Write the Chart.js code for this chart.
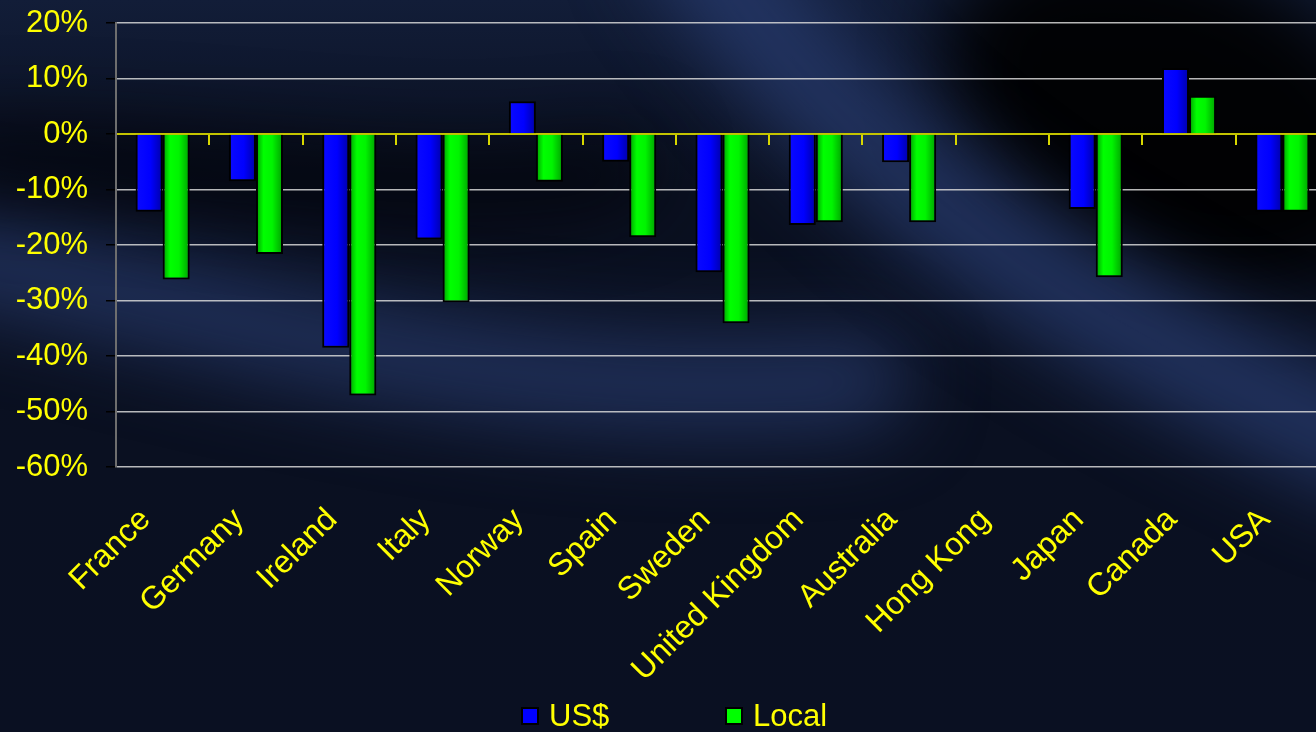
<!DOCTYPE html>
<html>
<head>
<meta charset="utf-8">
<script src="https://cdn.jsdelivr.net/npm/chart.js@4/dist/chart.umd.min.js"></script>
<style>
  html, body { margin: 0; padding: 0; overflow: hidden; background: #080d1c; }
  #wrap { position: relative; width: 1330px; height: 732px; }
</style>
</head>
<body>
<div id="wrap"><canvas id="chart"></canvas></div>
<script>
const countries = ['France', 'Germany', 'Ireland', 'Italy', 'Norway', 'Spain', 'Sweden',
    'United Kingdom', 'Australia', 'Hong Kong', 'Japan', 'Canada', 'USA'];

// returns in percent, Hong Kong has no bars
const usd = [-14.0, -8.5, -38.5, -19.0, 5.9, -5.0, -24.9, -16.4, -5.1, null, -13.5, 11.9, -14.0];
const local = [-26.2, -21.6, -47.1, -30.3, -8.6, -18.6, -34.1, -15.9, -15.9, null, -25.8, 6.9, -14.0];

const yTicks = [20, 10, 0, -10, -20, -30, -40, -50, -60];

const YELLOW = '#ffff00';
const CAT_PCT = 0.58;

// horizontal shading across each bar
function barFill(stops) {
    return (c) => {
        const chart = c.chart;
        const x = chart.scales.x;
        if (!x || c.dataIndex === undefined || !chart.chartArea) return stops[1][1];
        const cat = x.width / countries.length;
        const group = cat * CAT_PCT;
        const w = group / 2;
        const left = x.getPixelForValue(c.dataIndex) - group / 2 + w * c.datasetIndex;
        const g = chart.ctx.createLinearGradient(left, 0, left + w, 0);
        stops.forEach(([p, col]) => g.addColorStop(p, col));
        return g;
    };
}

const backdrop = {
    id: 'backdrop',
    beforeDraw(chart) {
        const {ctx, width, height} = chart;
        ctx.save();
        const base = ctx.createLinearGradient(0, 0, 0, height);
        base.addColorStop(0, '#121d38');
        base.addColorStop(0.25, '#0a1020');
        base.addColorStop(1, '#0a1022');
        ctx.fillStyle = base;
        ctx.fillRect(0, 0, width, height);

        ctx.filter = 'blur(38px)';
        ctx.lineCap = 'round';

        // dark pocket top right
        ctx.fillStyle = 'rgba(0,0,0,0.9)';
        ctx.beginPath();
        ctx.ellipse(1170, 110, 240, 160, 0.45, 0, Math.PI * 2);
        ctx.fill();

        // lower band coming in from the left
        ctx.strokeStyle = 'rgba(36,54,100,0.8)';
        ctx.lineWidth = 100;
        ctx.beginPath();
        ctx.moveTo(-60, 250);
        ctx.bezierCurveTo(250, 320, 520, 410, 860, 380);
        ctx.stroke();

        // main swoosh running down to the right
        ctx.strokeStyle = 'rgba(40,60,112,0.75)';
        ctx.lineWidth = 115;
        ctx.beginPath();
        ctx.moveTo(700, -60);
        ctx.bezierCurveTo(840, 150, 1030, 300, 1380, 450);
        ctx.stroke();

        // dim wedge along the 0% row
        ctx.strokeStyle = 'rgba(2,4,10,0.85)';
        ctx.lineWidth = 70;
        ctx.beginPath();
        ctx.moveTo(-40, 160);
        ctx.bezierCurveTo(200, 150, 420, 210, 620, 170);
        ctx.stroke();

        ctx.restore();
    }
};

const legendBoxes = {
    id: 'legendBoxes',
    afterDraw(chart) {
        const ctx = chart.ctx;
        const y = 716;
        const xs = [521, 725];
        ctx.save();
        ctx.font = '31px "Liberation Sans", Arial, sans-serif';
        ctx.textBaseline = 'middle';
        chart.data.datasets.forEach((ds, i) => {
            ctx.fillStyle = '#000';
            ctx.fillRect(xs[i], y - 9, 18, 18);
            ctx.fillStyle = ds.legendColor;
            ctx.fillRect(xs[i] + 2, y - 7, 14, 14);
            ctx.fillStyle = YELLOW;
            ctx.fillText(ds.label, xs[i] + 28, y + 1);
        });
        ctx.restore();
    }
};

new Chart(document.getElementById('chart'), {
    type: 'bar',
    data: {
        labels: countries,
        datasets: [
            {
                label: 'US$',
                data: usd,
                legendColor: '#0000ff',
                backgroundColor: barFill([[0, '#0a0aff'], [0.55, '#0000ff'], [1, '#0000a6']]),
                borderColor: '#000',
                borderWidth: 2,
                categoryPercentage: CAT_PCT,
                barPercentage: 1
            },
            {
                label: 'Local',
                data: local,
                legendColor: '#00ff00',
                backgroundColor: barFill([[0, '#009a00'], [0.28, '#00ff00'], [0.6, '#00f400'], [1, '#00a000']]),
                borderColor: '#000',
                borderWidth: 2,
                categoryPercentage: CAT_PCT,
                barPercentage: 1
            }
        ]
    },
    options: {
        responsive: true,
        maintainAspectRatio: false,
        animation: false,
        layout: { padding: { top: 23, right: 1, left: 0, bottom: 0 } },
        plugins: {
            legend: { display: false },
            tooltip: { enabled: false }
        },
        scales: {
            x: {
                type: 'category',
                offset: true,
                grid: { display: false },
                border: { display: false },
                ticks: {
                    color: YELLOW,
                    font: { family: '"Liberation Sans", Arial, sans-serif', size: 32 },
                    minRotation: 45,
                    maxRotation: 45,
                    autoSkip: false,
                    padding: 26,
                    labelOffset: -17
                },
                afterFit(s) {
                    s.height = 265;
                    s.paddingLeft = 0;
                    s.paddingRight = 0;
                }
            },
            zero: {
                type: 'category',
                axis: 'x',
                position: { y: 0 },
                offset: true,
                z: 1,
                grid: {
                    offset: true,
                    drawOnChartArea: false,
                    drawTicks: true,
                    tickLength: 10,
                    color: '#d8d800',
                    lineWidth: 2
                },
                border: { color: '#c4c400', width: 2 },
                ticks: { display: false }
            },
            y: {
                min: -60,
                max: 20,
                afterBuildTicks(s) {
                    s.ticks = yTicks.map(v => ({ value: v }));
                },
                grid: {
                    color: (c) => c.tick && c.tick.value === 0 ? '#c4c400' : 'rgba(215,215,215,0.85)',
                    lineWidth: 1.5,
                    tickLength: 10,
                    tickColor: '#000'
                },
                border: { color: '#6e6e6e', width: 2 },
                ticks: {
                    color: YELLOW,
                    font: { family: '"Liberation Sans", Arial, sans-serif', size: 31 },
                    padding: 18,
                    callback: (v) => v + '%'
                },
                afterFit(s) {
                    s.width = 116;
                    s.paddingTop = 0;
                    s.paddingBottom = 0;
                }
            }
        }
    },
    plugins: [backdrop, legendBoxes]
});
</script>
</body>
</html>
